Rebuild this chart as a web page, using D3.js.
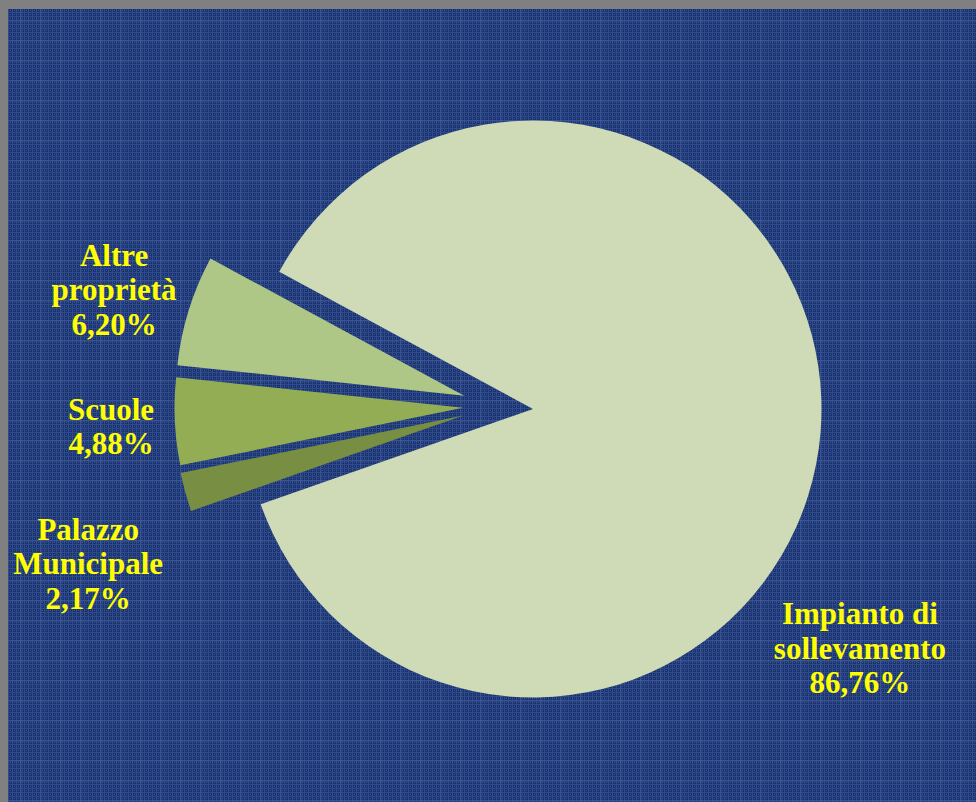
<!DOCTYPE html>
<html><head><meta charset="utf-8">
<script src="https://cdn.jsdelivr.net/npm/d3@7"></script>
<style>html,body{margin:0;padding:0;background:#808080;overflow:hidden}</style>
</head><body>
<svg id="chart" width="976" height="802"></svg>
<script>
// ---- data ----
const categories = ["Impianto di sollevamento", "Palazzo Municipale", "Scuole", "Altre proprietà"];
const values = [86.76, 2.17, 4.88, 6.20];
const valueLabels = ["86,76%", "2,17%", "4,88%", "6,20%"];
const labelLines = [["Impianto di", "sollevamento"], ["Palazzo", "Municipale"], ["Scuole"], ["Altre", "proprietà"]];
const exploded = [false, true, true, true];

// ---- styles / layout ----
const colors = ["#cfdbb6", "#788e43", "#93ad55", "#aec686"];
const W = 976, H = 802;
const cx = 533, cy = 409, R = 288.5;
const startDeg = 298.4;
const explodeDist = 70;
// label placement: polar [angle deg clockwise from 12 o'clock, distance] from pie centre
const labelPolar = [[125.9, 403.6], [251.1, 470.2], [268.0, 422.2], [286.2, 436.3]];
const fontSize = 31, lineH = 34.5;

const svg = d3.select("#chart");
const defs = svg.append("defs");
const p1 = defs.append("pattern").attr("id", "grid").attr("patternUnits", "userSpaceOnUse")
  .attr("width", 4).attr("height", 4);
p1.append("rect").attr("width", 4).attr("height", 4).attr("fill", "#1a3270");
p1.append("rect").attr("x", 0).attr("y", 0).attr("width", 4).attr("height", 1).attr("fill", "#304b8a");
p1.append("rect").attr("x", 0).attr("y", 0).attr("width", 1).attr("height", 4).attr("fill", "#304b8a");
p1.append("rect").attr("x", 2).attr("y", 2).attr("width", 1).attr("height", 1).attr("fill", "#3a5594");
const p2 = defs.append("pattern").attr("id", "plaid").attr("patternUnits", "userSpaceOnUse")
  .attr("width", 20).attr("height", 20);
p2.append("rect").attr("x", 0).attr("y", 0).attr("width", 20).attr("height", 2).attr("fill", "#5a74ad").attr("opacity", 0.2);
p2.append("rect").attr("x", 0).attr("y", 0).attr("width", 2).attr("height", 20).attr("fill", "#5a74ad").attr("opacity", 0.2);

svg.append("rect").attr("width", W).attr("height", H).attr("fill", "#808080");
svg.append("rect").attr("x", 8).attr("y", 9).attr("width", W - 8).attr("height", H - 9).attr("fill", "url(#grid)");
svg.append("rect").attr("x", 8).attr("y", 9).attr("width", W - 8).attr("height", H - 9).attr("fill", "url(#plaid)");

const rad = d => d * Math.PI / 180;
const pie = d3.pie().sort(null).value(d => d.v)
  .startAngle(rad(startDeg)).endAngle(rad(startDeg) + 2 * Math.PI);
const data = categories.map((c, i) => ({ c, v: values[i], i }));
const arcs = pie(data);
const arc = d3.arc().innerRadius(0).outerRadius(R);

// explosion direction: halfway between slice bisector and middle of the exploded group
const expl = arcs.filter(a => exploded[a.data.i]);
const groupMid = (d3.min(expl, a => a.startAngle) + d3.max(expl, a => a.endAngle)) / 2;

const g = svg.append("g").attr("transform", `translate(${cx},${cy})`);
g.selectAll("path").data(arcs).join("path")
  .attr("d", arc)
  .attr("fill", a => colors[a.data.i])
  .attr("transform", a => {
    if (!exploded[a.data.i]) return null;
    const mid = (a.startAngle + a.endAngle) / 2;
    const dir = (mid + groupMid) / 2;
    const [dx, dy] = d3.pointRadial(dir, explodeDist);
    return `translate(${dx},${dy})`;
  });

// labels
const lg = svg.append("g").attr("transform", `translate(${cx},${cy})`);
arcs.forEach(a => {
  const i = a.data.i;
  const [x, y] = d3.pointRadial(rad(labelPolar[i][0]), labelPolar[i][1]);
  const lines = labelLines[i].concat([valueLabels[i]]);
  const t = lg.append("text")
    .attr("text-anchor", "middle")
    .attr("font-family", "'Liberation Serif','Times New Roman',serif")
    .attr("font-weight", "bold")
    .attr("font-size", fontSize)
    .attr("fill", "#ffff00");
  const y0 = y - (lines.length - 1) / 2 * lineH + 0.42 * fontSize;
  lines.forEach((l, k) => t.append("tspan").attr("x", x).attr("y", y0 + k * lineH).text(l));
});
</script>
</body></html>
